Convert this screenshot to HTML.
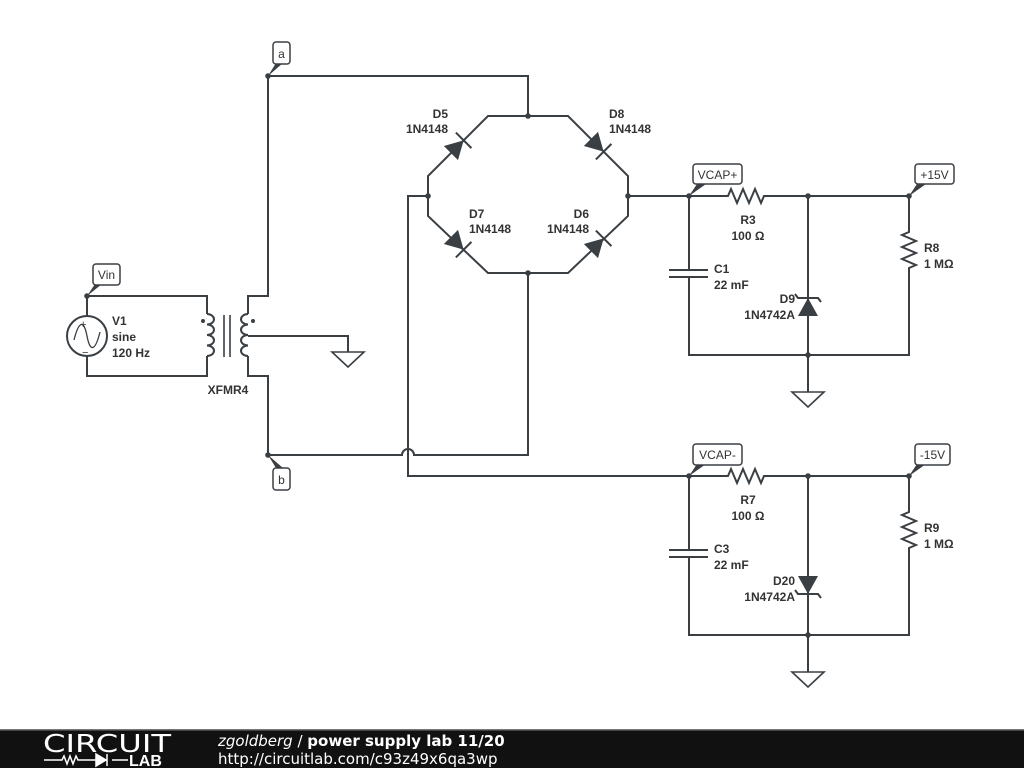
<!DOCTYPE html>
<html><head><meta charset="utf-8"><style>
body{margin:0;width:1024px;height:768px;background:#fff;overflow:hidden}
svg{display:block}
text{font-family:"Liberation Sans",sans-serif;font-size:12px;font-weight:bold;fill:#333}
.w{stroke:#3a3f44;stroke-width:2;fill:none}
</style></head><body>
<svg width="1024" height="768" viewBox="0 0 1024 768">
<defs>
<g id="dio"><path d="M-10,-10 L8,0 L-10,10Z" fill="#3a3f44"/><path d="M8,-11 L8,11" class="w"/></g>
<g id="zen"><path d="M-10,-10 L8,0 L-10,10Z" fill="#3a3f44"/><path d="M12,-13 L8,-10 L8,10 L4,13" class="w"/></g>
<g id="gnd"><path d="M-16,0 L16,0 L0,15Z" fill="#fff" stroke="#3a3f44" stroke-width="1.6"/></g>
</defs>
<g class="w">
<path d="M268,76 L528,76 L528,116"/>
<path d="M268,76 L268,296 L248,296 L248,314"/>
<path d="M248,356 L248,376 L268,376 L268,455 L402,455 A6,6 0 0 1 414,455 L528,455 L528,273"/>
<path d="M248,336 L348,336 L348,352"/>
<path d="M87,296 L207,296 L207,314 M207,356 L207,376 L87,376 L87,356 M87,316 L87,296"/>
<circle cx="87" cy="336" r="20"/>
<path d="M207,314 a7,5.25 0 0 1 0,10.5 a7,5.25 0 0 1 0,10.5 a7,5.25 0 0 1 0,10.5 a7,5.25 0 0 1 0,10.5"/>
<path d="M248,314 a7,5.25 0 0 0 0,10.5 a7,5.25 0 0 0 0,10.5 a7,5.25 0 0 0 0,10.5 a7,5.25 0 0 0 0,10.5"/>
<path d="M224,315 L224,357 M230,315 L230,357" stroke-width="1.6"/>
<path d="M488,116 L568,116 L628,176 L628,216 L568,273 L488,273 L428,216 L428,176 Z"/>
<path d="M428,196 L408,196 L408,476 L689,476"/>
<path d="M628,196 L728,196 l3,-7 l6,14 l6,-14 l6,14 l6,-14 l6,14 l3,-7 L909,196 L909,232 l-7,3 l14,6 l-14,6 l14,6 l-14,6 l14,6 l-7,3 L909,355 L689,355 L689,277 M689,270 L689,196"/>
<path d="M669,270 L708,270 M669,277 L708,277"/>
<path d="M808,196 L808,392"/>
<path d="M689,476 L728,476 l3,-7 l6,14 l6,-14 l6,14 l6,-14 l6,14 l3,-7 L909,476 L909,512 l-7,3 l14,6 l-14,6 l14,6 l-14,6 l14,6 l-7,3 L909,635 L689,635 L689,557 M689,550 L689,476"/>
<path d="M669,550 L708,550 M669,557 L708,557"/>
<path d="M808,476 L808,672"/>
</g>
<path d="M74,340 C79,320 84,320 87,336 C90,352 95,352 100,332" stroke="#3a3f44" stroke-width="1.3" fill="none"/>
<text x="80" y="328" style="font-size:11px;font-weight:normal">+</text>
<text x="82" y="356" style="font-size:11px;font-weight:normal">−</text>
<circle cx="203" cy="321" r="2" fill="#3a3f44"/><circle cx="253" cy="321" r="2" fill="#3a3f44"/>
<g fill="#3a3f44">
<circle cx="528" cy="116" r="2.8"/><circle cx="528" cy="273" r="2.8"/><circle cx="428" cy="196" r="2.8"/><circle cx="628" cy="196" r="2.8"/>
<circle cx="808" cy="196" r="2.8"/><circle cx="808" cy="355" r="2.8"/><circle cx="808" cy="476" r="2.8"/><circle cx="808" cy="635" r="2.8"/>
<circle cx="689" cy="196" r="2.8"/><circle cx="909" cy="196" r="2.8"/><circle cx="689" cy="476" r="2.8"/><circle cx="909" cy="476" r="2.8"/>
<circle cx="268" cy="76" r="2.8"/><circle cx="268" cy="455" r="2.8"/><circle cx="87" cy="296" r="2.8"/>
</g>
<use href="#dio" transform="translate(458,146) rotate(-45)"/>
<use href="#dio" transform="translate(598,146) rotate(45)"/>
<use href="#dio" transform="translate(458,244) rotate(45)"/>
<use href="#dio" transform="translate(598,244) rotate(-45)"/>
<use href="#zen" transform="translate(808,306) rotate(-90)"/>
<use href="#zen" transform="translate(808,586) rotate(90)"/>
<use href="#gnd" transform="translate(348,352)"/>
<use href="#gnd" transform="translate(808,392)"/>
<use href="#gnd" transform="translate(808,672)"/>
<g fill="#3a3f44">
<path d="M268,76 L276,63 L283,63 Z"/><path d="M268,455 L276,468 L283,468 Z"/>
<path d="M87,296 L95,284 L102,284 Z"/>
<path d="M689,196 L697,184 L706,184 Z"/><path d="M909,196 L917,184 L926,184 Z"/>
<path d="M689,476 L697,464 L706,464 Z"/><path d="M909,476 L917,464 L926,464 Z"/>
</g>
<g fill="#fff" stroke="#3a3f44" stroke-width="1.5">
<rect x="273" y="42" width="17" height="22" rx="3"/>
<rect x="273" y="468" width="17" height="22" rx="3"/>
<rect x="93" y="264" width="27" height="21" rx="3"/>
<rect x="693" y="164" width="49" height="20" rx="3"/>
<rect x="915" y="164" width="39" height="20" rx="3"/>
<rect x="693" y="444" width="49" height="21" rx="3"/>
<rect x="915" y="444" width="35" height="21" rx="3"/>
</g>
<text x="281.5" y="58" text-anchor="middle" style="font-weight:normal">a</text>
<text x="281.5" y="484" text-anchor="middle" style="font-weight:normal">b</text>
<text x="106.5" y="279" text-anchor="middle" style="font-weight:normal">Vin</text>
<text x="717.5" y="179" text-anchor="middle" style="font-weight:normal">VCAP+</text>
<text x="934.5" y="179" text-anchor="middle" style="font-weight:normal">+15V</text>
<text x="717.5" y="459" text-anchor="middle" style="font-weight:normal">VCAP-</text>
<text x="932.5" y="459" text-anchor="middle" style="font-weight:normal">-15V</text>
<text x="112" y="325">V1</text><text x="112" y="341">sine</text><text x="112" y="357">120 Hz</text>
<text x="228" y="394" text-anchor="middle">XFMR4</text>
<text x="448" y="118" text-anchor="end">D5</text><text x="448" y="133" text-anchor="end">1N4148</text>
<text x="609" y="118">D8</text><text x="609" y="133">1N4148</text>
<text x="469" y="218">D7</text><text x="469" y="233">1N4148</text>
<text x="589" y="218" text-anchor="end">D6</text><text x="589" y="233" text-anchor="end">1N4148</text>
<text x="748" y="224" text-anchor="middle">R3</text><text x="748" y="240" text-anchor="middle">100 Ω</text>
<text x="714" y="273">C1</text><text x="714" y="289">22 mF</text>
<text x="795" y="303" text-anchor="end">D9</text><text x="795" y="319" text-anchor="end">1N4742A</text>
<text x="924" y="252">R8</text><text x="924" y="268">1 MΩ</text>
<text x="748" y="504" text-anchor="middle">R7</text><text x="748" y="520" text-anchor="middle">100 Ω</text>
<text x="714" y="553">C3</text><text x="714" y="569">22 mF</text>
<text x="795" y="585" text-anchor="end">D20</text><text x="795" y="601" text-anchor="end">1N4742A</text>
<text x="924" y="532">R9</text><text x="924" y="548">1 MΩ</text>
<rect x="0" y="729" width="1024" height="39" fill="#111"/>
<rect x="0" y="729" width="1024" height="1.5" fill="#777"/>
<text x="43" y="752" style="fill:#fff;font-size:25px;font-weight:normal;font-family:'DejaVu Sans',sans-serif" textLength="128" lengthAdjust="spacingAndGlyphs">CIRCUIT</text>
<path d="M44,760 L62,760 l2,-4 l3,8 l3,-8 l3,8 l3,-8 l2,4 L96,760 M112,760 L128,760" stroke="#fff" stroke-width="1.5" fill="none"/>
<path d="M96,754 L106,760 L96,766Z M107,754 L107,766" fill="#fff" stroke="#fff" stroke-width="1.5"/>
<text x="129" y="766" style="fill:#fff;font-size:16px;font-weight:bold">LAB</text>
<text x="218" y="746" style="fill:#fff;font-size:15px;font-weight:normal;font-family:'DejaVu Sans',sans-serif"><tspan font-style="italic">zgoldberg</tspan> / <tspan font-weight="bold">power supply lab 11/20</tspan></text>
<text x="218" y="764" style="fill:#fff;font-size:15px;font-weight:normal;font-family:'DejaVu Sans',sans-serif">http://circuitlab.com/c93z49x6qa3wp</text>
</svg>
</body></html>
